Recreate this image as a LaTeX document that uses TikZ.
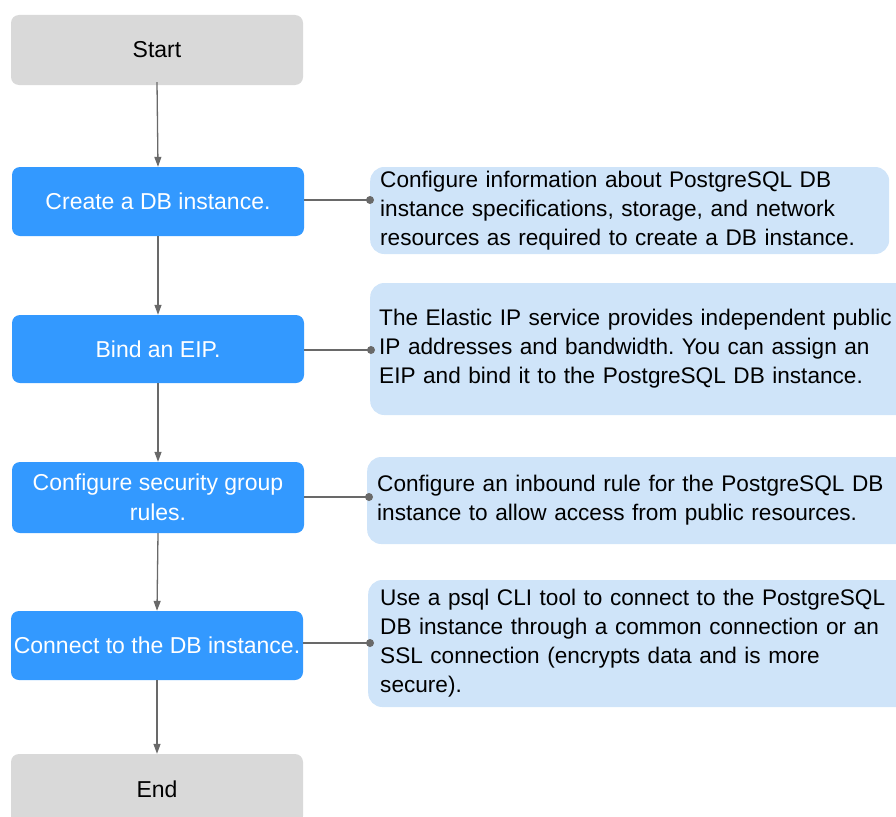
\documentclass[tikz,border=0pt]{standalone}
\usepackage{fontspec}
\setmainfont{Liberation Sans}
\usetikzlibrary{arrows.meta}
\definecolor{stepblue}{RGB}{51,153,255}
\definecolor{termgray}{RGB}{217,217,217}
\definecolor{descblue}{RGB}{207,228,249}
\definecolor{linegray}{RGB}{105,105,105}
\tikzset{
  termbox/.style={draw=none, fill=termgray, rounded corners=8pt, minimum width=292pt, minimum height=70pt, inner sep=0pt, text=black, align=center, font=\fontsize{23}{29}\selectfont},
  stepbox/.style={draw=none, fill=stepblue, rounded corners=8pt, minimum width=292pt, inner sep=0pt, text=white, align=center, font=\fontsize{23}{30}\selectfont},
  descbox/.style={draw=none, fill=descblue, rounded corners=14pt, inner xsep=10pt, inner ysep=0pt, align=left, text=black, font=\fontsize{22.6}{29}\selectfont\frenchspacing},
  flow/.style={draw=linegray, line width=1.3pt, -{Triangle[length=10pt,width=7pt]}},
  link/.style={draw=linegray, line width=1.3pt},
  dot/.style={circle, fill=linegray, inner sep=0pt, minimum size=8pt}
}
\begin{document}
\begin{tikzpicture}[x=1pt, y=-1pt]
\useasboundingbox (0,0) rectangle (896,816);
\clip (0,0) rectangle (896,816);
% steps
\node[termbox] (start) at (157,50) {Start};
\node[stepbox, minimum height=69pt] (create) at (158,201.5) {Create a DB instance.};
\node[stepbox, minimum height=68pt] (bind) at (158,349) {Bind an EIP.};
\node[stepbox, minimum height=71pt] (sg) at (158,497.5) {Configure security group\\rules.};
\node[stepbox, minimum height=69pt] (conn) at (157,645.5) {Connect to the DB instance.};
\node[termbox] (end) at (157,789) {End};
% descriptions
\node[descbox, text width=499pt, minimum height=87pt, anchor=west] (d1) at (370,210.5)
  {Configure information about PostgreSQL DB\\instance specifications, storage, and network\\resources as required to create a DB instance.};
\node[descbox, text width=580pt, minimum height=132pt, anchor=west, inner xsep=9pt] (d2) at (370,349)
  {The Elastic IP service provides independent public\\IP addresses and bandwidth. You can assign an\\EIP and bind it to the PostgreSQL DB instance.};
\node[descbox, text width=580pt, minimum height=87pt, anchor=west] (d3) at (367,500.5)
  {Configure an inbound rule for the PostgreSQL DB\\instance to allow access from public resources.};
\node[descbox, text width=580pt, minimum height=127pt, anchor=west, inner xsep=12pt] (d4) at (368,643.5)
  {Use a psql CLI tool to connect to the PostgreSQL\\DB instance through a common connection or an\\SSL connection (encrypts data and is more\\secure).};
% flow arrows
\coordinate (s0) at ([yshift=3pt]start.south);
\draw[flow] (s0) -- (create.north);
\draw[flow] (create.south) -- (bind.north);
\draw[flow] (bind.south) -- (sg.north);
\draw[flow] (sg.south) -- (conn.north);
\draw[flow] (conn.south) -- (end.north);
% links
\coordinate (c1) at (304,200);
\node[dot] (p1) at (370,200) {};
\draw[link] (c1) -- (p1.center);
\coordinate (c2) at (304,350);
\node[dot] (p2) at (371,350) {};
\draw[link] (c2) -- (p2.center);
\coordinate (c3) at (304,497);
\node[dot] (p3) at (369,497) {};
\draw[link] (c3) -- (p3.center);
\coordinate (c4) at (303,643);
\node[dot] (p4) at (370,643) {};
\draw[link] (c4) -- (p4.center);
\end{tikzpicture}
\end{document}
